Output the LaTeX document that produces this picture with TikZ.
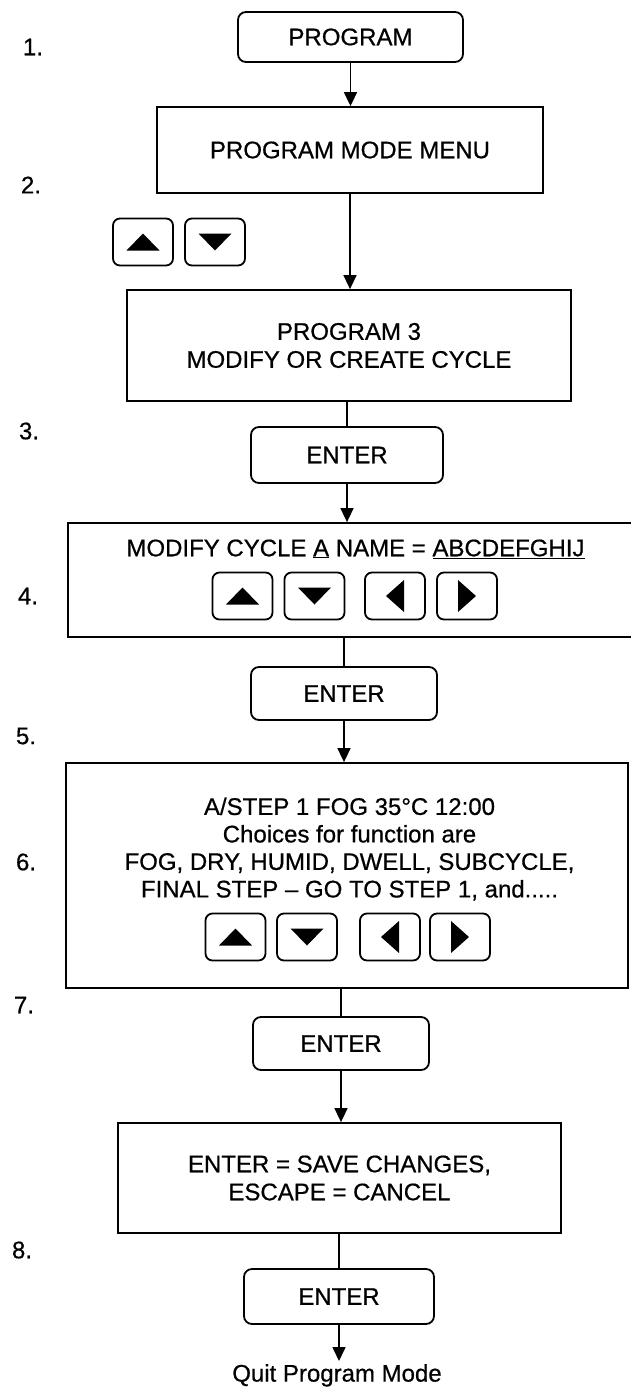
\documentclass[tikz,border=0pt]{standalone}
\usepackage{fontspec}
\setmainfont{Liberation Sans}[FakeBold=0.6]
\usetikzlibrary{arrows.meta}
\tikzset{
  box/.style={draw, line width=1.8pt, inner sep=0pt, font=\fontsize{24}{28}\selectfont, align=center},
  rbox/.style={box, rounded corners=8pt},
  txt/.style={inner sep=0pt, font=\fontsize{24}{27.5}\selectfont, align=center},
  kbtn/.style={draw, line width=1.8pt, rounded corners=7pt, minimum width=60pt, minimum height=47pt, inner sep=0pt},
  conn/.style={line width=1.6pt},
  arr/.style={conn, -{Triangle[width=13pt,length=14pt]}},
  num/.style={font=\fontsize{24}{28}\selectfont, inner sep=0pt},
}
\newcommand\kup[3]{\node[kbtn] (#1) at (#2,#3) {};
  \fill (#1.center) ++(-16.5,8.5) -- ++(33,0) -- ++(-16.5,-17) -- cycle;}
\newcommand\kdown[3]{\node[kbtn] (#1) at (#2,#3) {};
  \fill (#1.center) ++(-16.5,-8.5) -- ++(33,0) -- ++(-16.5,17) -- cycle;}
\newcommand\kleft[3]{\node[kbtn] (#1) at (#2,#3) {};
  \fill (#1.center) ++(9,-16) -- ++(0,32) -- ++(-18,-16) -- cycle;}
\newcommand\kright[3]{\node[kbtn] (#1) at (#2,#3) {};
  \fill (#1.center) ++(-9,-16) -- ++(0,32) -- ++(18,-16) -- cycle;}
\begin{document}
\begin{tikzpicture}[x=1pt,y=-1pt]
\useasboundingbox (0,0) rectangle (631,1387);
\fill[white] (0,0) rectangle (631,1387);
\clip (0,0) rectangle (631,1387);

% step numbers
\node[num] (n1) at (33,47) {1.};
\node[num] (n2) at (31,185) {2.};
\node[num] (n3) at (29,431) {3.};
\node[num] (n4) at (28,596) {4.};
\node[num] (n5) at (26,736) {5.};
\node[num] (n6) at (26,862) {6.};
\node[num] (n7) at (24,1005) {7.};
\node[num] (n8) at (22,1250) {8.};

% boxes
\node[rbox, minimum width=225pt, minimum height=50pt] (prog) at (350.5,37) {PROGRAM};
\node[box, minimum width=386pt, minimum height=86pt] (menu) at (350,150) {PROGRAM MODE MENU};
\kup{m1}{143}{242}
\kdown{m2}{215}{242}
\node[box, minimum width=444pt, minimum height=111pt] (p3) at (349,345.5) {PROGRAM 3\\MODIFY OR CREATE CYCLE};
\node[rbox, minimum width=192pt, minimum height=56pt] (e1) at (347,455) {ENTER};

\node[box, minimum width=572pt, minimum height=114pt] (mod) at (354,580) {};
\node[txt] (modtxt) at (355.5,549) {MODIFY CYCLE \underline{A} NAME = \underline{ABCDEFGHIJ}};
\kup{a1}{242.5}{596}
\kdown{a2}{314.5}{596}
\kleft{a3}{395}{596}
\kright{a4}{467}{596}

\node[rbox, minimum width=186pt, minimum height=53pt] (e2) at (344,693.5) {ENTER};

\node[box, minimum width=562pt, minimum height=225pt] (stepbox) at (347,875.5) {};
\node[txt] (steptxt) at (349.5,849) {A/STEP 1 FOG 35°C 12:00\\Choices for function are\\FOG, DRY, HUMID, DWELL, SUBCYCLE,\\FINAL STEP -- GO TO STEP 1, and.....};
\kup{s1}{235.5}{937}
\kdown{s2}{307}{937}
\kleft{s3}{390}{937}
\kright{s4}{460}{937}

\node[rbox, minimum width=176pt, minimum height=53pt] (e3) at (341,1043.5) {ENTER};
\node[box, minimum width=443pt, minimum height=110pt] (save) at (339.5,1178) {ENTER = SAVE CHANGES,\\ESCAPE = CANCEL};
\node[rbox, minimum width=190pt, minimum height=55pt] (e4) at (339,1296.5) {ENTER};
\node[txt, anchor=north, inner sep=3pt] (quit) at (337,1361) {Quit Program Mode};

% connectors
\draw[arr] (prog.south) -- (prog.south |- menu.north);
\draw[arr] (menu.south) -- (menu.south |- p3.north);
\draw[conn] (e1.north |- p3.south) -- (e1.north);
\draw[arr] (e1.south) -- (e1.south |- mod.north);
\draw[conn] (e2.north |- mod.south) -- (e2.north);
\draw[arr] (e2.south) -- (e2.south |- stepbox.north);
\draw[conn] (e3.north |- stepbox.south) -- (e3.north);
\draw[arr] (e3.south) -- (e3.south |- save.north);
\draw[conn] (e4.north |- save.south) -- (e4.north);
\draw[arr] (e4.south) -- (e4.south |- quit.north);
\end{tikzpicture}
\end{document}
